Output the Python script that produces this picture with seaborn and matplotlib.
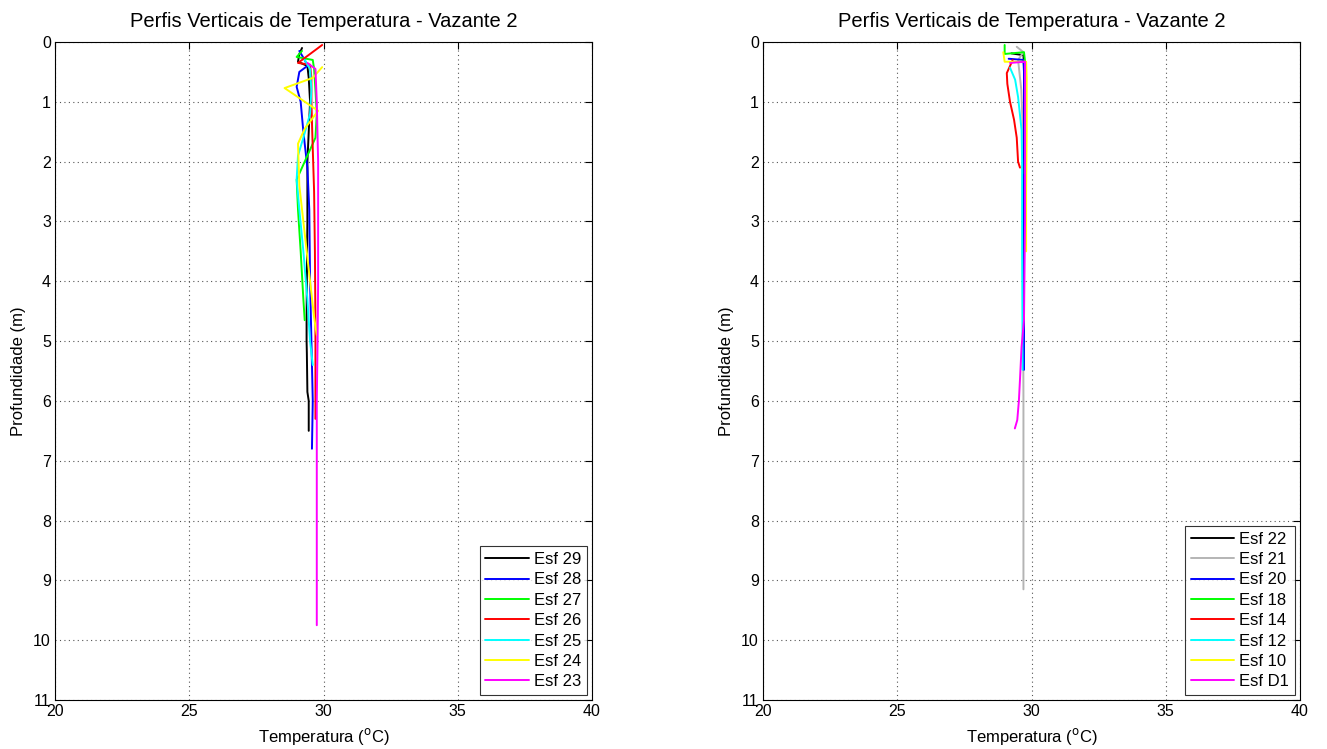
import matplotlib
matplotlib.use("Agg")
import matplotlib.pyplot as plt
import seaborn as sns
import pandas as pd

# ---- Profile data: depth (m) and temperature (degC) per station ----
# Left panel
esf29_depth = [0.10, 0.20, 0.33, 0.40, 0.60, 1.00, 1.50, 2.00, 3.00, 4.00, 4.70, 5.00, 5.20, 5.85, 6.00, 6.50]
esf29_temp  = [29.20, 29.10, 29.05, 29.40, 29.45, 29.50, 29.45, 29.40, 29.40, 29.38, 29.37, 29.37, 29.38, 29.40, 29.45, 29.45]
esf28_depth = [0.15, 0.30, 0.40, 0.50, 0.75, 1.00, 1.50, 2.10, 2.80, 4.00, 5.00, 6.00, 6.80]
esf28_temp  = [29.10, 29.30, 29.40, 29.10, 29.00, 29.15, 29.25, 29.40, 29.47, 29.50, 29.55, 29.60, 29.57]
esf27_depth = [0.15, 0.25, 0.30, 0.45, 0.80, 1.20, 1.60, 1.90, 2.30, 2.80, 3.50, 4.30, 4.65]
esf27_temp  = [29.20, 29.00, 29.60, 29.65, 29.70, 29.75, 29.70, 29.40, 29.00, 29.05, 29.15, 29.25, 29.30]
esf26_depth = [0.05, 0.35, 0.38, 0.60, 1.00, 1.50, 2.50, 3.50, 4.70, 5.50, 6.30]
esf26_temp  = [29.95, 29.05, 29.50, 29.55, 29.55, 29.58, 29.65, 29.68, 29.70, 29.70, 29.70]
esf25_depth = [0.30, 0.45, 0.80, 1.20, 1.60, 1.90, 2.30, 2.80, 3.50, 4.30, 5.00, 5.40]
esf25_temp  = [29.30, 29.50, 29.55, 29.50, 29.25, 29.05, 29.00, 29.10, 29.25, 29.40, 29.50, 29.60]
esf24_depth = [0.42, 0.60, 0.77, 1.15, 1.45, 1.70, 2.40, 3.20, 4.00, 4.60, 4.90]
esf24_temp  = [29.95, 29.60, 28.55, 29.80, 29.30, 29.05, 29.10, 29.30, 29.50, 29.65, 29.75]
esf23_depth = [0.35, 0.45, 1.00, 2.00, 3.00, 4.00, 5.00, 6.00, 7.00, 8.00, 9.00, 9.75]
esf23_temp  = [29.40, 29.70, 29.75, 29.80, 29.80, 29.80, 29.78, 29.75, 29.75, 29.75, 29.75, 29.75]

# Right panel
esf22_depth = [0.19, 0.22, 0.40, 1.00, 2.00]
esf22_temp  = [29.25, 29.70, 29.72, 29.72, 29.72]
esf21_depth = [0.08, 0.17, 0.30, 0.80, 1.50, 3.00, 6.00, 9.15]
esf21_temp  = [29.45, 29.70, 29.50, 29.62, 29.68, 29.68, 29.70, 29.70]
esf20_depth = [0.28, 0.30, 0.50, 1.00, 3.00, 5.48]
esf20_temp  = [29.15, 29.70, 29.72, 29.72, 29.72, 29.72]
esf18_depth = [0.05, 0.20, 0.17, 0.40, 1.00, 2.20]
esf18_temp  = [29.00, 29.00, 29.72, 29.78, 29.78, 29.75]
esf14_depth = [0.30, 0.40, 0.52, 0.70, 1.00, 1.30, 1.60, 2.00, 2.10]
esf14_temp  = [29.30, 29.20, 29.08, 29.10, 29.20, 29.35, 29.45, 29.50, 29.57]
esf12_depth = [0.43, 0.63, 0.92, 1.47, 2.00, 3.50, 5.48]
esf12_temp  = [29.20, 29.39, 29.50, 29.63, 29.65, 29.65, 29.67]
esf10_depth = [0.17, 0.33, 0.33, 0.60, 1.50, 2.50, 3.50]
esf10_temp  = [28.95, 29.00, 29.80, 29.82, 29.82, 29.80, 29.80]
esfd1_depth = [0.35, 0.33, 1.00, 3.00, 4.65, 5.10, 5.65, 6.00, 6.32, 6.46]
esfd1_temp  = [29.20, 29.76, 29.76, 29.76, 29.72, 29.63, 29.57, 29.53, 29.47, 29.38]

left_labels = ["Esf 29", "Esf 28", "Esf 27", "Esf 26", "Esf 25", "Esf 24", "Esf 23"]
left_series = [(esf29_temp, esf29_depth), (esf28_temp, esf28_depth), (esf27_temp, esf27_depth),
               (esf26_temp, esf26_depth), (esf25_temp, esf25_depth), (esf24_temp, esf24_depth),
               (esf23_temp, esf23_depth)]
left_colors = ["#000000", "#0000ff", "#00ff00", "#ff0000", "#00ffff", "#ffff00", "#ff00ff"]

right_labels = ["Esf 22", "Esf 21", "Esf 20", "Esf 18", "Esf 14", "Esf 12", "Esf 10", "Esf D1"]
right_series = [(esf22_temp, esf22_depth), (esf21_temp, esf21_depth), (esf20_temp, esf20_depth),
                (esf18_temp, esf18_depth), (esf14_temp, esf14_depth), (esf12_temp, esf12_depth),
                (esf10_temp, esf10_depth), (esfd1_temp, esfd1_depth)]
right_colors = ["#000000", "#b4b4b4", "#0000ff", "#00ff00", "#ff0000", "#00ffff", "#ffff00", "#ff00ff"]

title = "Perfis Verticais de Temperatura - Vazante 2"
xticks = [20, 25, 30, 35, 40]
yticks = list(range(0, 12))

sns.set_style("white")
plt.rcParams["font.family"] = ["Liberation Sans", "DejaVu Sans"]
plt.rcParams["text.color"] = "black"
plt.rcParams["axes.labelcolor"] = "black"

fig = plt.figure(figsize=(13.27, 7.49), dpi=100)
ax_l = fig.add_axes([55 / 1327, 1 - 700 / 749, 537 / 1327, 658 / 749])
ax_r = fig.add_axes([763 / 1327, 1 - 700 / 749, 537 / 1327, 658 / 749])


def draw_panel(ax, labels, series, colors):
    for lab, (temp, depth), col in zip(labels, series, colors):
        df = pd.DataFrame({"temp": temp, "depth": depth})
        sns.lineplot(data=df, x="temp", y="depth", sort=False, estimator=None,
                     color=col, linewidth=1.4, label=lab, ax=ax)
    ax.set_xlim(20, 40)
    ax.set_ylim(11, 0)
    ax.set_xticks(xticks)
    ax.set_yticks(yticks)
    ax.set_xticklabels([str(v) for v in xticks], fontsize=11.5)
    ax.set_yticklabels([str(v) for v in yticks], fontsize=11.5)
    ax.tick_params(direction="in", length=5, width=0.8, top=True, right=True,
                   colors="black", labelcolor="black", pad=3)
    ax.grid(True, color="#555555", linestyle=(0, (1, 3)), linewidth=0.8)
    for sp in ax.spines.values():
        sp.set_color("black")
        sp.set_linewidth(0.8)
    ax.set_title(title, fontsize=14.5, pad=11, color="black")
    ax.set_xlabel("Temperatura ($^{\\rm o}$C)", fontsize=12, labelpad=5)
    ax.set_ylabel("Profundidade (m)", fontsize=12, labelpad=5)
    leg = ax.legend(loc="lower right", fontsize=12, frameon=True, fancybox=False,
                    borderaxespad=0.3, handlelength=2.6, labelspacing=0.32,
                    handletextpad=0.3, borderpad=0.35)
    leg.get_frame().set_edgecolor("black")
    leg.get_frame().set_linewidth(0.8)
    for txt in leg.get_texts():
        txt.set_color("black")


draw_panel(ax_l, left_labels, left_series, left_colors)
draw_panel(ax_r, right_labels, right_series, right_colors)

fig.savefig("out.png", dpi=100, facecolor="white")
